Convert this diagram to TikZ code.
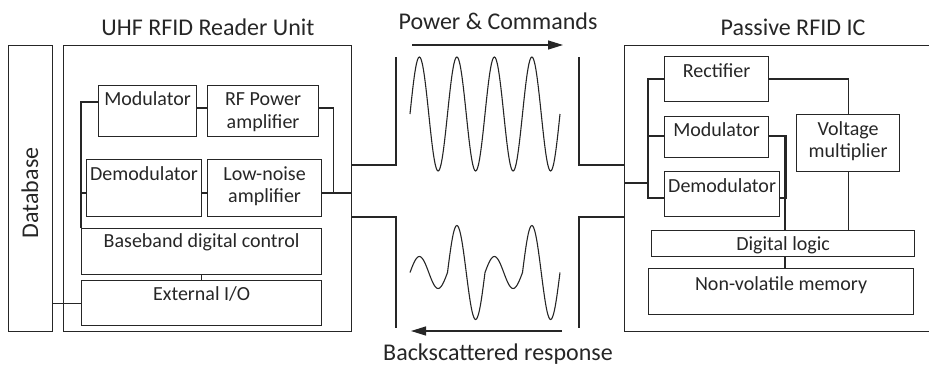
\documentclass[tikz,border=0pt]{standalone}
\usepackage{fontspec}
\setmainfont{Carlito}
\usetikzlibrary{arrows.meta,calc}
\definecolor{ink}{HTML}{262626}
\begin{document}
\begin{tikzpicture}[x=1pt,y=-1pt,color=ink,line width=1.2pt,
  box/.style={draw=ink,line width=1.2pt,inner sep=0pt,anchor=north west},
  tx/.style={anchor=base,inner sep=0pt,text=ink,font=\fontsize{20}{22}\selectfont},
  ttl/.style={anchor=base,inner sep=0pt,text=ink,font=\fontsize{24}{27}\selectfont},
  wave/.style={draw=ink,line width=1.1pt,smooth},
  arr/.style={draw=ink,line width=1.2pt,-{Triangle[length=15pt,width=9pt]}}]
\useasboundingbox (0,0) rectangle (929,365);
\clip (0,0) rectangle (929,365);
% ---------- Database ----------
\node[box,minimum width=44pt,minimum height=286pt] (db) at (8,45) {};
\node[rotate=90,inner sep=0pt,text=ink,font=\fontsize{24}{27}\selectfont] (dbt) at (30,193) {Database};
% ---------- Reader unit ----------
\node[box,minimum width=288pt,minimum height=286pt] (reader) at (63,45) {};
\node[ttl] (readert) at (208,35) {UHF RFID Reader Unit};
\node[box,minimum width=98pt,minimum height=51pt] (rmod) at (98,85) {};
\node[box,minimum width=111pt,minimum height=51pt] (rrf) at (207,85) {};
\node[box,minimum width=115pt,minimum height=57pt] (rdem) at (86,159) {};
\node[box,minimum width=114pt,minimum height=57pt] (rlna) at (207,159) {};
\node[box,minimum width=240pt,minimum height=46pt] (rbb) at (81,228) {};
\node[box,minimum width=240pt,minimum height=45pt] (rio) at (81,280) {};
\node[tx] (t1) at ([yshift=-20pt]rmod.north) {Modulator};
\node[tx] (t2) at ([yshift=-20pt]rrf.north) {RF Power};
\node[tx] (t3) at ([yshift=-43pt]rrf.north) {amplifier};
\node[tx] (t4) at ([yshift=-21pt]rdem.north) {Demodulator};
\node[tx] (t5) at ([yshift=-21pt]rlna.north) {Low-noise};
\node[tx] (t6) at ([yshift=-43pt]rlna.north) {amplifier};
\node[tx] (t7) at ([yshift=-19pt]rbb.north) {Baseband digital control};
\node[tx] (t8) at ([yshift=-20pt]rio.north) {External I/O};
% reader connectors
\draw ([yshift=-17pt]rmod.north west) -| (rbb.north west);
\draw ([yshift=-34pt]rdem.north west) -- ([yshift=-34pt]rdem.north west -| rbb.west);
\draw ([yshift=-23pt]rmod.north east) -- ([yshift=-23pt]rmod.north east -| rrf.west);
\draw ([yshift=-34pt]rdem.north east) -- ([yshift=-34pt]rdem.north east -| rlna.west);
\draw ([yshift=-23pt]rrf.north east) -- ++(14,0) |- ([yshift=-34pt]rlna.north east);
\draw ([yshift=-34pt]rlna.north east) -- ([yshift=-34pt]rlna.north east -| reader.east);
\draw (rbb.south) -- (rio.north);
\draw (rio.west) -- (rio.west -| db.east);
% ---------- antennas ----------
\coordinate (ra1) at (396,57);
\coordinate (ra2) at (396,328);
\coordinate (ta1) at (579,57);
\coordinate (ta2) at (579,328);
% ---------- IC ----------
\node[box,minimum width=320pt,minimum height=286pt] (ic) at (624,45) {};
\node[ttl] (ict) at (793,35) {Passive RFID IC};
\node[box,minimum width=104pt,minimum height=45pt] (irec) at (664,56) {};
\node[box,minimum width=104pt,minimum height=41pt] (imod) at (664,116) {};
\node[box,minimum width=115pt,minimum height=45pt] (idem) at (664,171) {};
\node[box,minimum width=103pt,minimum height=57pt] (ivm) at (796,114) {};
\node[box,minimum width=263pt,minimum height=26pt] (idl) at (651,230) {};
\node[box,minimum width=265pt,minimum height=46pt] (inv) at (648,268) {};
\node[tx] (u1) at ([yshift=-21pt]irec.north) {Rectifier};
\node[tx] (u2) at ([yshift=-20pt]imod.north) {Modulator};
\node[tx] (u3) at ([yshift=-21pt]idem.north) {Demodulator};
\node[tx] (u4) at ([yshift=-21pt]ivm.north) {Voltage};
\node[tx] (u5) at ([yshift=-43pt]ivm.north) {multiplier};
\node[tx] (u6) at ([yshift=-20pt]idl.north) {Digital logic};
\node[tx] (u7) at ([yshift=-22pt]inv.north) {Non-volatile memory};
% antenna connectors
\draw (reader.east |- 0,165) -| (ra1);
\draw (reader.east |- 0,217) -| (ra2);
\draw (ic.west |- 0,165) -| (ta1);
\draw (ic.west |- 0,217) -| (ta2);
% IC connectors
\draw (ic.west |- 0,183) -- (648,183);
\draw ([yshift=-23pt]irec.north west) -- ++(-16,0) |- ([yshift=-27pt]idem.north west);
\draw ([yshift=-20pt]imod.north west) -- ++(-16,0);
\draw ([yshift=-23pt]irec.north east) -| (ivm.north);
\draw (ivm.south) -- (ivm.south |- idl.north);
\draw ([yshift=-20pt]imod.north east) -- ++(17,0) |- ([yshift=-27pt]idem.north east);
\draw (imod.north east -| 785,0) ++(0,20) -- (idl.north -| 785,0);
\draw (idl.south -| 785,0) -- (inv.north -| 785,0);
% ---------- waves ----------
\draw[wave] plot[domain=0:150,samples=161] ({410+\x},{114-57*sin(9.6*\x)});
\draw[wave] plot[domain=0:37.5,samples=41] ({410+\x},{272.5-16*sin(9.6*\x)})
  -- plot[domain=37.5:75,samples=41] ({410+\x},{272.5-47*sin(9.6*\x)})
  -- plot[domain=75:112.5,samples=41] ({410+\x},{272.5-16*sin(9.6*\x)})
  -- plot[domain=112.5:150,samples=41] ({410+\x},{272.5-47*sin(9.6*\x)});
% ---------- arrows and labels ----------
\coordinate (a1s) at (412,45);
\coordinate (a1e) at (563,45);
\coordinate (a2s) at (562,331);
\coordinate (a2e) at (411,331);
\draw[arr] (a1s) -- (a1e);
\draw[arr] (a2s) -- (a2e);
\node[ttl] (pc) at (498,29) {Power \& Commands};
\node[ttl] (bs) at (498,360) {Backscattered response};
\end{tikzpicture}
\end{document}
